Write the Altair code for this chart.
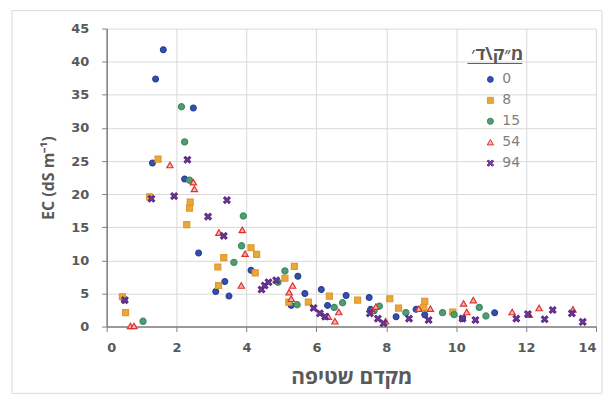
import altair as alt
import pandas as pd

# ---- data ----
series_names = ["0", "8", "15", "54", "94"]

s0_x = [0.50, 1.31, 1.40, 1.62, 2.23, 2.48, 2.63, 3.12, 3.38, 3.50, 4.13, 5.28, 5.47, 5.67, 6.14, 6.32, 6.85, 7.51, 7.55, 8.28, 8.85, 9.10, 10.18, 11.10]
s0_y = [4.0, 24.7, 37.4, 41.8, 22.3, 33.0, 11.1, 5.3, 6.8, 4.6, 8.5, 3.2, 7.6, 5.0, 5.6, 3.2, 4.7, 4.4, 2.6, 1.5, 2.6, 1.8, 1.2, 2.1]

s8_x = [0.45, 0.54, 1.23, 1.47, 2.29, 2.37, 2.39, 3.18, 3.20, 3.35, 4.13, 4.25, 4.29, 5.10, 5.21, 5.37, 5.77, 6.37, 7.18, 8.10, 8.35, 9.07, 9.10, 9.90]
s8_y = [4.5, 2.1, 19.6, 25.3, 15.4, 17.9, 18.8, 9.0, 6.2, 10.4, 11.9, 8.1, 10.9, 7.3, 3.7, 9.1, 3.7, 4.6, 4.0, 4.2, 2.8, 2.9, 3.8, 2.2]

s15_x = [1.04, 2.14, 2.23, 2.37, 3.64, 3.86, 3.91, 4.90, 5.10, 5.45, 6.51, 6.75, 7.65, 7.80, 8.56, 9.61, 9.94, 10.66, 10.85]
s15_y = [0.8, 33.2, 27.9, 22.1, 9.7, 12.2, 16.7, 6.7, 8.4, 3.3, 2.9, 3.6, 2.4, 3.1, 2.1, 2.1, 1.8, 2.9, 1.6]

s54_x = [0.68, 0.78, 1.81, 2.48, 2.51, 3.21, 3.85, 3.88, 3.96, 5.22, 5.28, 5.32, 6.34, 6.53, 6.64, 7.60, 7.70, 7.98, 8.93, 9.26, 10.21, 10.30, 10.49, 11.60, 12.09, 12.37, 13.34]
s54_y = [0.1, 0.1, 24.4, 21.8, 20.8, 14.2, 6.2, 14.6, 11.0, 5.2, 4.2, 6.2, 1.5, 0.8, 2.2, 2.4, 3.0, 0.8, 2.7, 2.7, 3.5, 2.2, 4.0, 2.2, 1.8, 2.8, 2.6]

s94_x = [0.52, 1.28, 1.93, 2.31, 2.90, 3.35, 3.44, 4.43, 4.52, 4.63, 4.85, 5.92, 6.10, 6.25, 7.53, 7.76, 7.92, 8.65, 9.21, 10.18, 10.55, 11.72, 12.05, 12.53, 12.76, 13.31, 13.62]
s94_y = [4.0, 19.3, 19.7, 25.2, 16.6, 13.7, 19.1, 5.6, 6.2, 6.7, 7.0, 2.8, 2.0, 1.5, 2.0, 1.2, 0.5, 1.2, 1.0, 1.2, 1.0, 1.2, 1.9, 1.1, 2.5, 2.0, 0.7]

x_ticks = [0, 2, 4, 6, 8, 10, 12, 14]
y_ticks = [0, 5, 10, 15, 20, 25, 30, 35, 40, 45]

legend_title = "מ״ק\\ד׳"
x_title = "מקדם שטיפה"
y_title = "EC (dS m⁻¹)"

fills = ["#3350B0", "#EBA83A", "#4F9D74", "#F6B8B0", "#7B3FA0"]
strokes = ["#2A3F90", "#E0982A", "#3F8A62", "#E03030", "#5A2A80"]
x_path = "M-1,-0.6L-0.6,-1L0,-0.4L0.6,-1L1,-0.6L0.4,0L1,0.6L0.6,1L0,0.4L-0.6,1L-1,0.6L-0.4,0Z"
shapes = ["circle", "square", "circle", "triangle-up", x_path]
sizes = [34, 42, 28, 58, 52]

rows = []
for name, xs, ys in zip(series_names,
                        [s0_x, s8_x, s15_x, s54_x, s94_x],
                        [s0_y, s8_y, s15_y, s54_y, s94_y]):
    for xv, yv in zip(xs, ys):
        rows.append({"series": name, "x": xv, "y": yv,
                     "order": series_names.index(name)})
df = pd.DataFrame(rows)

FONT = "DejaVu Sans"
HFONT = "Open Sans"
GRAY = "#595959"

legend = alt.Legend(
    title=legend_title, orient="none", legendX=366, legendY=18, padding=0,
    titleFontSize=18, titleFont=HFONT, titleColor=GRAY, titleFontWeight="bold",
    titleAnchor="middle", titlePadding=8,
    labelFontSize=14, labelFont=FONT, labelColor="#7f7f7f",
    rowPadding=7, labelOffset=5, symbolOffset=9, symbolStrokeWidth=1,
)

dom = series_names

points = alt.Chart(df).mark_point(opacity=1, strokeWidth=1.2).encode(
    x=alt.X("x:Q", scale=alt.Scale(domain=[0, 14], nice=False),
            axis=alt.Axis(values=x_ticks, title=x_title, format="d")),
    y=alt.Y("y:Q", scale=alt.Scale(domain=[0, 45], nice=False),
            axis=alt.Axis(values=y_ticks, title=y_title, format="d")),
    fill=alt.Fill("series:N", scale=alt.Scale(domain=dom, range=fills), legend=legend),
    stroke=alt.Stroke("series:N", scale=alt.Scale(domain=dom, range=strokes), legend=legend),
    shape=alt.Shape("series:N", scale=alt.Scale(domain=dom, range=shapes), legend=legend),
    size=alt.Size("series:N", scale=alt.Scale(domain=dom, range=sizes), legend=legend),
    order=alt.Order("order:Q"),
)

frame = alt.Chart(pd.DataFrame({"a": [0]})).mark_rect(
    fill="transparent", stroke="#d9d9d9", strokeWidth=1
).encode(
    x=alt.value(-95), x2=alt.value(497), y=alt.value(-18), y2=alt.value(366)
)

# underline of the legend title
underline = alt.Chart(pd.DataFrame({"a": [0]})).mark_rule(
    color=GRAY, strokeWidth=1
).encode(
    x=alt.value(362), x2=alt.value(417), y=alt.value(35)
)

chart = alt.layer(frame, points, underline).properties(
    width=491, height=299,
    autosize=alt.AutoSizeParams(type="none"),
    padding={"left": 99, "top": 20, "right": 8, "bottom": 70},
).configure_view(stroke=None).configure_axis(
    grid=True, gridColor="#d9d9d9", gridWidth=1,
    domainColor="#7f7f7f", domainWidth=1.5,
    tickColor="#7f7f7f", tickSize=5,
    labelFont=FONT, labelFontSize=13, labelColor=GRAY, labelFontWeight="bold",
    titleFont=HFONT, titleColor=GRAY, titleFontWeight="bold",
).configure_axisX(
    labelPadding=10, titlePadding=12, titleFontSize=21
).configure_axisY(
    labelPadding=13, titlePadding=14, titleFontSize=16
)

chart.save("out.html", embed_options={"renderer": "svg", "actions": False})
